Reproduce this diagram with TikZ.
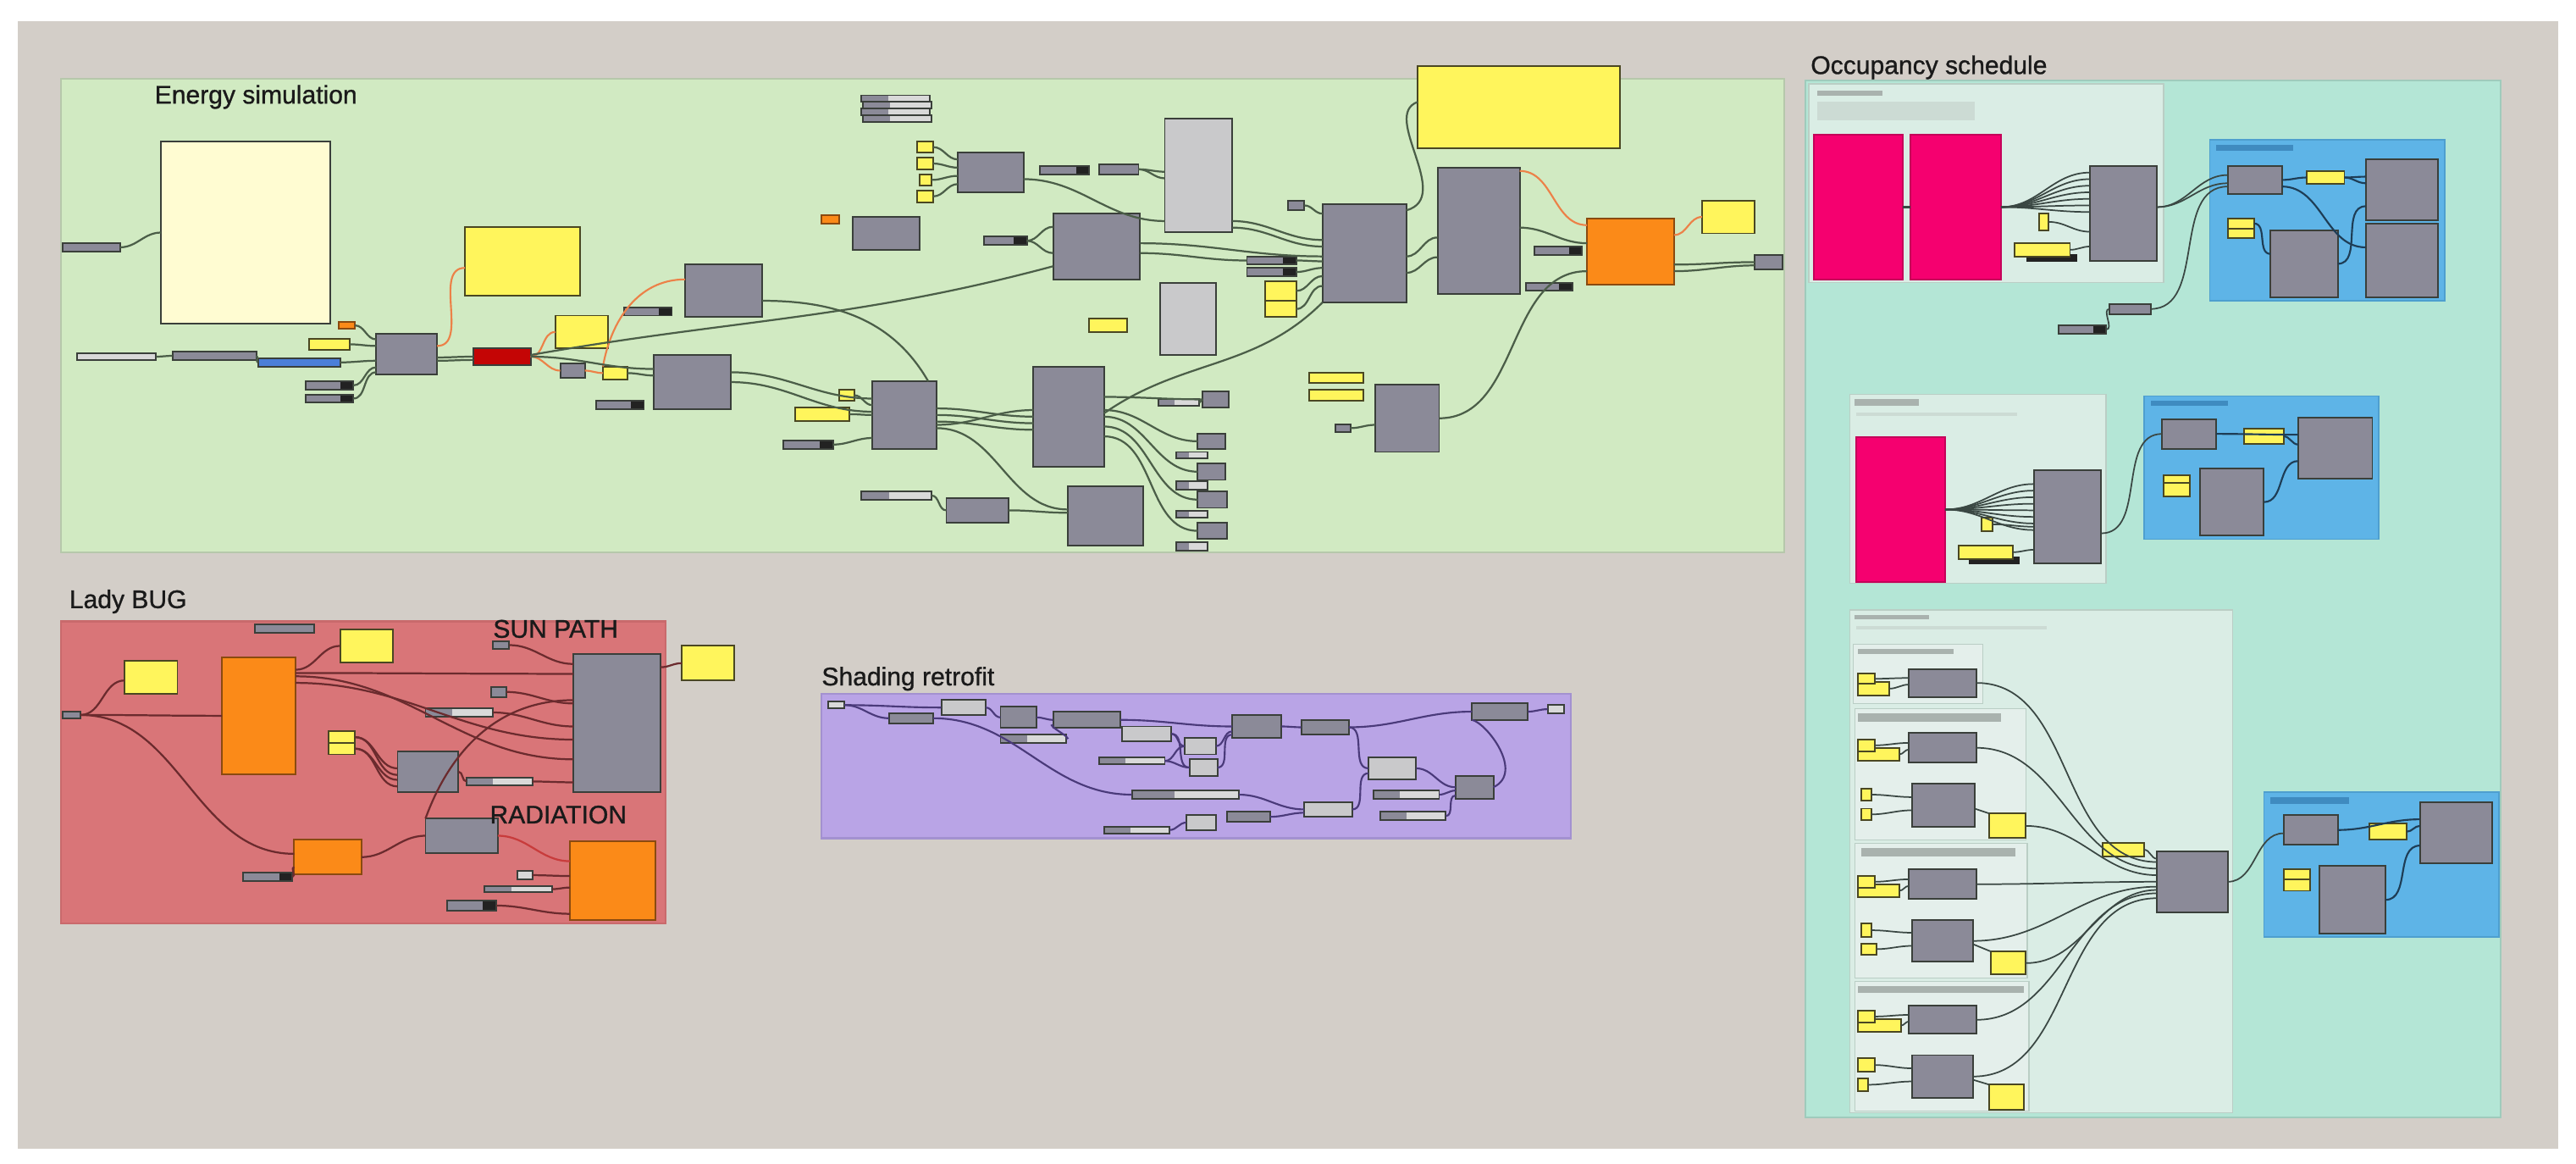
\documentclass[tikz,border=0pt]{standalone}
\usepackage{fontspec}
\setmainfont{Liberation Sans}
\newfontfamily\titlefont[FakeBold=1]{Liberation Sans}
\usetikzlibrary{fit,calc}
\definecolor{canvas}{HTML}{D3CEC8}
\definecolor{engreen}{HTML}{D1EAC2}
\definecolor{engreenE}{HTML}{B6C8AB}
\definecolor{lbred}{HTML}{D97578}
\definecolor{lbredE}{HTML}{C96A6C}
\definecolor{shpurp}{HTML}{B9A4E6}
\definecolor{shpurpE}{HTML}{A391D0}
\definecolor{occ}{HTML}{B4E6D6}
\definecolor{occE}{HTML}{9FCBBC}
\definecolor{sublt}{HTML}{DAEDE5}
\definecolor{subltE}{HTML}{BACEC5}
\definecolor{subsub}{HTML}{E4EFEB}
\definecolor{bluegrp}{HTML}{5EB4E7}
\definecolor{bluegrpE}{HTML}{4E9FCF}
\definecolor{ghgray}{HTML}{8B8A98}
\definecolor{ghedge}{HTML}{3A3F3A}
\definecolor{ghyel}{HTML}{FFF55C}
\definecolor{yeledge}{HTML}{4A4722}
\definecolor{ghpale}{HTML}{FFFCD2}
\definecolor{ghlg}{HTML}{C9C9CB}
\definecolor{ghorange}{HTML}{FB8A18}
\definecolor{orangeE}{HTML}{8A4A10}
\definecolor{ghred}{HTML}{C40505}
\definecolor{ghblue}{HTML}{4B7FD8}
\definecolor{ghpink}{HTML}{F5006F}
\definecolor{kdark}{HTML}{222222}
\definecolor{klight}{HTML}{D9D9D9}
\definecolor{wireE}{HTML}{4B5E48}
\definecolor{wireO}{HTML}{EC8148}
\definecolor{wireL}{HTML}{6B2B2E}
\definecolor{wireLr}{HTML}{C83C3C}
\definecolor{wireS}{HTML}{4A3A7A}
\definecolor{wireQ}{HTML}{3A4743}
\definecolor{wireB}{HTML}{1E3D56}
\definecolor{barG}{HTML}{A9B2AE}
\definecolor{barF}{HTML}{CCDBD4}
\definecolor{barB}{HTML}{3F8BC0}
\definecolor{titlec}{HTML}{1A1A1A}
\tikzset{
  base/.style={inner sep=0pt,outer sep=0pt,line width=1pt},
  comp/.style={base,fill=ghgray,draw=ghedge},
  yel/.style={base,fill=ghyel,draw=yeledge},
  pale/.style={base,fill=ghpale,draw=ghedge},
  lgray/.style={base,fill=ghlg,draw=ghedge},
  lslide/.style={base,fill=klight,draw=ghedge},
  orng/.style={base,fill=ghorange,draw=orangeE},
  redc/.style={base,fill=ghred,draw=ghedge},
  bluep/.style={base,fill=ghblue,draw=ghedge},
  pinkc/.style={base,fill=ghpink,draw=ghpink!80!black},
  grp/.style={inner sep=0pt,outer sep=0pt,line width=1.2pt},
  bar/.style={inner sep=0pt,outer sep=0pt,draw=none},
  title/.style={font=\titlefont\fontsize{15.5}{18}\selectfont,text=titlec,inner sep=0pt,anchor=base west},
  wE/.style={draw=wireE,line width=1.15pt},
  wO/.style={draw=wireO,line width=1.1pt},
  wL/.style={draw=wireL,line width=1.15pt},
  wLr/.style={draw=wireLr,line width=1.15pt},
  wS/.style={draw=wireS,line width=1.1pt},
  wQ/.style={draw=wireQ,line width=0.9pt},
  wB/.style={draw=wireB,line width=1.1pt},
}
\newcommand\bx[6]{\node[#1,fit={(#3,#4) (#5,#6)}] (#2) {};}
\newcommand\kb[5]{\bx{comp}{#1}{#2}{#3}{#4}{#5}%
  \fill[kdark] ([xshift=-8pt]#1.north east) rectangle (#1.south east);%
  \draw[ghedge,line width=1pt] (#1.north west) rectangle (#1.south east);}
\newcommand\kw[5]{\bx{comp}{#1}{#2}{#3}{#4}{#5}%
  \fill[klight] ($(#1.north west)!0.4!(#1.north east)$) rectangle (#1.south east);%
  \draw[ghedge,line width=1pt] (#1.north west) rectangle (#1.south east);}
\newcommand\wi[3][wE]{\draw[#1] (#2) to[out=0,in=180] (#3);}
\begin{document}
\begin{tikzpicture}[x=1pt,y=-1pt]
\useasboundingbox (0,0) rectangle (1568,708);
\fill[white] (0,0) rectangle (1568,708);
\fill[canvas] (11,13) rectangle (1557,699);

% ================= GROUPS =================
\node[grp,fill=engreen,draw=engreenE,fit={(37,48) (1086,336)}] (gE) {};
\node[title] (tE) at (94,63) {Energy simulation};
\node[grp,fill=lbred,draw=lbredE,fit={(37,378) (405,562)}] (gL) {};
\node[title] (tL) at (42,370) {Lady BUG};
\node[grp,fill=shpurp,draw=shpurpE,fit={(500,422) (956,510)}] (gS) {};
\node[title] (tS) at (500,417) {Shading retrofit};
\node[grp,fill=occ,draw=occE,fit={(1099,49) (1522,680)}] (gQ) {};
\node[title] (tQ) at (1102,45) {Occupancy schedule};

% ================= ENERGY SIMULATION =================
\bx{comp}{es1}{38}{148}{73}{153}
\bx{pale}{ep1}{98}{86}{201}{197}
\bx{lslide}{ea1}{47}{215}{95}{219}
\bx{comp}{ea2}{105}{214}{156}{219}
\bx{bluep}{ea3}{157}{218}{207}{223}
\bx{orng}{eo1}{206}{196}{216}{200}
\bx{yel}{ey1}{188}{206}{213}{213}
\kb{ek1}{186}{232}{215}{237}
\kb{ek2}{186}{240}{215}{245}
\bx{comp}{ec1}{229}{203}{266}{228}
\bx{yel}{ey2}{283}{138}{353}{180}
\bx{redc}{er1}{288}{212}{323}{222}
\bx{yel}{ey3}{338}{192}{370}{212}
\bx{comp}{eg1}{341}{221}{356}{230}
\bx{yel}{ey4}{367}{223}{382}{231}
\kb{ek3}{380}{187}{409}{192}
\bx{comp}{ec2}{417}{161}{464}{193}
\kb{ek4}{363}{244}{392}{249}
\bx{comp}{ec3}{398}{216}{445}{249}
\kw{et1}{524}{58}{566}{62}
\kw{et2}{525}{62}{567}{66}
\kw{et3}{524}{66}{566}{70}
\kw{et4}{525}{70}{567}{74}
\bx{yel}{eys1}{558}{86}{568}{93}
\bx{yel}{eys2}{558}{96}{568}{103}
\bx{yel}{eys3}{560}{106}{567}{113}
\bx{yel}{eys4}{558}{116}{568}{123}
\bx{comp}{ec4}{583}{93}{623}{117}
\kb{ek5}{633}{101}{663}{106}
\bx{comp}{eg2}{669}{100}{693}{106}
\bx{lgray}{eL1}{709}{72}{750}{141}
\bx{orng}{eo2}{500}{131}{511}{136}
\bx{comp}{ec5}{519}{132}{560}{152}
\kb{ek6}{599}{144}{625}{149}
\bx{comp}{ec6}{641}{130}{694}{170}
\bx{comp}{eg3}{784}{122}{794}{128}
\bx{comp}{em1}{805}{124}{856}{184}
\kb{ek7}{759}{156}{789}{161}
\kb{ek8}{759}{163}{789}{168}
\bx{yel}{ey5}{770}{171}{789}{183}
\bx{yel}{ey6}{770}{183}{789}{193}
\bx{lgray}{eL2}{706}{172}{740}{216}
\bx{yel}{ey7}{663}{194}{686}{202}
\bx{yel}{eY}{863}{40}{986}{90}
\bx{comp}{em2}{875}{102}{925}{179}
\bx{orng}{eO}{966}{133}{1019}{173}
\bx{yel}{ey8}{1036}{122}{1068}{142}
\kb{ek9}{934}{150}{963}{155}
\kb{ek10}{929}{172}{957}{177}
\bx{comp}{eg4}{1068}{155}{1085}{164}
\bx{yel}{ey9}{797}{227}{830}{233}
\bx{yel}{ey10}{797}{237}{830}{244}
\bx{comp}{ec10}{837}{234}{876}{275}
\bx{comp}{eg5}{813}{258}{822}{263}
\bx{yel}{ey11}{511}{237}{520}{244}
\bx{yel}{ey12}{484}{248}{517}{256}
\kb{ek11}{477}{268}{507}{273}
\bx{comp}{ec7}{531}{232}{570}{273}
\bx{comp}{ec8}{629}{223}{672}{284}
\kw{ew1}{705}{243}{730}{247}
\bx{comp}{eg6}{732}{238}{748}{248}
\bx{comp}{eg7}{729}{264}{746}{273}
\kw{ew2}{716}{275}{735}{279}
\bx{comp}{eg8}{729}{282}{746}{292}
\kw{ew3}{716}{293}{735}{298}
\bx{comp}{eg9}{729}{299}{747}{309}
\kw{ew4}{716}{311}{735}{315}
\bx{comp}{eg10}{729}{318}{747}{328}
\kw{ew5}{716}{330}{735}{335}
\kw{ew6}{524}{299}{567}{304}
\bx{comp}{ec9}{576}{303}{614}{318}
\bx{comp}{ec11}{650}{296}{696}{332}

% energy wires
\wi{es1.east}{ep1.west}
\wi{ea1.east}{ea2.west}
\wi{ea2.east}{ea3.west}
\wi{ea3.east}{[yshift=-4pt]ec1.west}
\wi{eo1.east}{[yshift=9pt]ec1.west}
\wi{ey1.east}{[yshift=5pt]ec1.west}
\wi{ek1.east}{[yshift=-8pt]ec1.west}
\wi{ek2.east}{[yshift=-11pt]ec1.west}
\wi[wO]{[yshift=5pt]ec1.east}{[yshift=-4pt]ey2.west}
\wi{[yshift=-2pt]ec1.east}{er1.west}
\wi{[yshift=-4pt]ec1.east}{[yshift=-2pt]er1.west}
\wi[wO]{er1.east}{ey3.west}
\wi[wO]{er1.east}{eg1.west}
\wi[wO]{eg1.east}{ey4.west}
\draw[wO] (ey4.north west) to[out=80,in=180] ([yshift=7pt]ec2.west);
\wi{ey4.east}{[yshift=4pt]ec3.west}
\wi{er1.east}{[yshift=8pt]ec3.west}
\draw[wE] ([yshift=1pt]er1.east) to[out=10,in=195] ([yshift=-12pt]ec6.west);
\draw[wE] ([yshift=-6pt]ec2.east) to[out=0,in=120] ([xshift=-5pt]ec7.north east);
\wi{[yshift=6pt]ec3.east}{[yshift=10pt]ec7.west}
\wi{ec3.east}{[yshift=2pt]ec7.west}
\wi{ey11.east}{[yshift=6pt]ec7.west}
\wi{ey12.east}{ec7.west}
\wi{ek11.east}{[yshift=-14pt]ec7.west}
\wi{[yshift=4pt]ec7.east}{ec8.west}
\wi{ec7.east}{[yshift=-4pt]ec8.west}
\wi{[yshift=-4pt]ec7.east}{[yshift=-8pt]ec8.west}
\wi{[yshift=-6pt]ec7.east}{[yshift=4pt]ec8.west}
\wi{[yshift=-8pt]ec7.east}{[yshift=4pt]ec11.west}
\wi{ew6.east}{ec9.west}
\wi{ec9.east}{[yshift=2pt]ec11.west}
\wi{[yshift=12pt]ec8.east}{eg6.west}
\wi{[yshift=4pt]ec8.east}{eg7.west}
\wi{ec8.east}{eg8.west}
\wi{[yshift=-6pt]ec8.east}{eg9.west}
\wi{[yshift=-12pt]ec8.east}{eg10.west}
\wi{ew1.east}{eg6.west}
\draw[wE] ([yshift=2pt]ec8.east) to[out=35,in=225] (em1.south west);
\wi{eys1.east}{[yshift=8pt]ec4.west}
\wi{eys2.east}{[yshift=3pt]ec4.west}
\wi{eys3.east}{[yshift=-2pt]ec4.west}
\wi{eys4.east}{[yshift=-7pt]ec4.west}
\wi{[yshift=-4pt]ec4.east}{[yshift=-28pt]eL1.west}
\wi{eg2.east}{[yshift=2pt]eL1.west}
\wi{eg2.east}{[yshift=-2pt]eL1.west}
\wi{[yshift=-28pt]eL1.east}{[yshift=8pt]em1.west}
\wi{[yshift=-32pt]eL1.east}{[yshift=4pt]em1.west}
\wi{eg3.east}{[yshift=24pt]em1.west}
\wi{[yshift=2pt]ec6.east}{[yshift=-2pt]em1.west}
\wi{[yshift=-4pt]ec6.east}{ek7.west}
\wi{ek6.east}{[yshift=12pt]ec6.west}
\wi{ek6.east}{[yshift=-4pt]ec6.west}
\wi{ek7.east}{[yshift=-5pt]em1.west}
\wi{ek8.east}{[yshift=-9pt]em1.west}
\wi{ey5.east}{[yshift=-14pt]em1.west}
\wi{ey6.east}{[yshift=-20pt]em1.west}
\draw[wE] ([yshift=26pt]em1.east) .. controls (885,120) and (840,70) .. ([yshift=3pt]eY.west);
\wi{[yshift=-2pt]em1.east}{[yshift=-4pt]em2.west}
\wi{[yshift=-12pt]em1.east}{[yshift=-16pt]em2.west}
\wi[wO]{[yshift=-2pt]em2.north east}{[yshift=16pt]eO.west}
\wi{[yshift=2pt]em2.east}{[yshift=5pt]eO.west}
\draw[wE] (ec10.east) to[out=0,in=180] ([yshift=-12pt]eO.west);
\wi{eg5.east}{[yshift=-4pt]ec10.west}
\wi[wO]{[yshift=10pt]eO.east}{ey8.west}
\wi{[yshift=-8pt]eO.east}{eg4.west}
\wi{[yshift=-12pt]eO.east}{[yshift=-2pt]eg4.west}

% ================= LADY BUG =================
\bx{comp}{lg0}{38}{433}{49}{437}
\bx{yel}{ly1}{76}{402}{108}{422}
\bx{orng}{lO}{135}{400}{180}{471}
\bx{comp}{lk0}{155}{380}{191}{385}
\bx{yel}{ly2}{207}{383}{239}{403}
\bx{comp}{lg1}{300}{390}{310}{395}
\bx{comp}{lB}{349}{398}{402}{482}
\bx{yel}{ly5}{415}{393}{447}{414}
\bx{comp}{lg2}{299}{418}{308}{424}
\kw{lk1}{259}{431}{300}{436}
\bx{yel}{ly3}{200}{445}{216}{452}
\bx{yel}{ly4}{200}{452}{216}{459}
\bx{comp}{lc1}{242}{457}{279}{482}
\kw{lk2}{284}{473}{324}{478}
\bx{comp}{lc2}{259}{498}{303}{519}
\bx{orng}{lo2}{179}{511}{220}{532}
\kb{lk5}{148}{531}{178}{536}
\bx{orng}{lo3}{347}{512}{399}{560}
\bx{lslide}{ll1}{315}{530}{324}{535}
\kw{lk3}{295}{539}{336}{543}
\kb{lk4}{272}{548}{302}{554}
\node[title] (tSP) at (300,388) {SUN PATH};
\node[title] (tRA) at (298,501) {RADIATION};

\wi[wL]{lg0.east}{[yshift=-2pt]ly1.west}
\wi[wL]{lg0.east}{lO.west}
\draw[wL] (lg0.east) to[out=0,in=180] ([yshift=2pt]lo2.west);
\wi[wL]{[yshift=28pt]lO.east}{ly2.west}
\wi[wL]{[yshift=26pt]lO.east}{[yshift=30pt]lB.west}
\wi[wL]{[yshift=20pt]lO.east}{[yshift=-10pt]lB.west}
\wi[wL]{[yshift=24pt]lO.east}{[yshift=-22pt]lB.west}
\wi[wL]{lg1.east}{[yshift=36pt]lB.west}
\wi[wL]{lg2.east}{[yshift=12pt]lB.west}
\wi[wL]{lk1.east}{[yshift=-2pt]lB.west}
\wi[wL]{ly3.east}{[yshift=2pt]lc1.west}
\wi[wL]{ly3.east}{[yshift=-2pt]lc1.west}
\wi[wL]{ly4.east}{[yshift=-5pt]lc1.west}
\wi[wL]{ly4.east}{[yshift=-9pt]lc1.west}
\wi[wL]{lc1.east}{lk2.west}
\wi[wL]{lk2.east}{[yshift=-36pt]lB.west}
\wi[wL]{lo2.east}{lc2.west}
\draw[wL] (lc2.north west) to[out=70,in=180] ([yshift=14pt]lB.west);
\wi[wLr]{lc2.east}{[yshift=12pt]lo3.west}
\wi[wL]{ll1.east}{[yshift=3pt]lo3.west}
\wi[wL]{lk3.east}{[yshift=-4pt]lo3.west}
\wi[wL]{lk4.east}{[yshift=-20pt]lo3.west}
\wi[wL]{[yshift=34pt]lB.east}{ly5.west}
\wi[wL]{lk5.east}{[yshift=-6pt]lo2.west}

% ================= SHADING RETROFIT =================
\bx{lslide}{st0}{504}{427}{514}{431}
\bx{comp}{sg1}{541}{434}{568}{440}
\bx{lgray}{sL1}{573}{426}{600}{435}
\bx{comp}{sg2}{609}{430}{631}{443}
\kw{sk1}{609}{447}{649}{452}
\bx{comp}{sg3}{641}{433}{682}{443}
\bx{lgray}{sL2}{683}{442}{713}{451}
\bx{lgray}{sL3}{721}{449}{740}{459}
\bx{lgray}{sL4}{724}{462}{741}{472}
\kw{sk2}{669}{461}{709}{465}
\bx{comp}{sg4}{750}{435}{780}{449}
\bx{comp}{sg5}{792}{438}{821}{447}
\bx{comp}{sg6}{896}{428}{930}{438}
\bx{lslide}{st1}{942}{429}{952}{434}
\bx{lgray}{sL5}{833}{461}{862}{474}
\bx{comp}{sg8}{886}{472}{909}{486}
\kw{sk3}{836}{481}{876}{486}
\kw{sk4}{840}{494}{880}{499}
\bx{lgray}{sL6}{794}{488}{823}{497}
\bx{comp}{sg7}{747}{494}{773}{500}
\kw{sK}{689}{481}{754}{486}
\bx{lgray}{sL7}{722}{496}{740}{505}
\kw{sk5}{672}{503}{712}{507}

\wi[wS]{st0.east}{sL1.west}
\wi[wS]{st0.east}{sg1.west}
\draw[wS] (sg1.east) to[out=0,in=180] (sK.west);
\wi[wS]{sL1.east}{sg2.west}
\wi[wS]{sg2.east}{sg3.west}
\wi[wS]{sk1.east}{[yshift=-3pt]sg3.west}
\wi[wS]{sg3.east}{sg4.west}
\wi[wS]{sL2.east}{sL3.west}
\wi[wS]{sL2.east}{sL4.west}
\wi[wS]{sk2.east}{sL3.west}
\wi[wS]{sk2.east}{sL4.west}
\wi[wS]{sL3.east}{[yshift=-3pt]sg4.west}
\wi[wS]{sL4.east}{[yshift=-5pt]sg4.west}
\wi[wS]{sg4.east}{sg5.west}
\wi[wS]{sg5.east}{sg6.west}
\wi[wS]{sg5.east}{sL5.west}
\wi[wS]{sg6.east}{st1.west}
\wi[wS]{sK.east}{sL6.west}
\wi[wS]{sg7.east}{[yshift=-2pt]sL6.west}
\wi[wS]{sL6.east}{[yshift=-3pt]sL5.west}
\wi[wS]{sL5.east}{sg8.west}
\wi[wS]{sk3.east}{[yshift=-2pt]sg8.west}
\wi[wS]{sk4.east}{[yshift=-5pt]sg8.west}
\draw[wS] (sg8.east) .. controls (928,470) and (905,440) .. (sg6.south west);
\wi[wS]{sk5.east}{sL7.west}

% ================= OCCUPANCY SCHEDULE =================
% sub-group A
\node[grp,line width=0.8pt,fill=sublt,draw=subltE,fit={(1101,51) (1317,172)}] (qGA) {};
\bx{bar,fill=barG}{qbarA}{1106}{55}{1146}{58}
\bx{bar,fill=barF}{qbarA2}{1106}{62}{1202}{73}
\bx{pinkc}{qp1}{1104}{82}{1158}{170}
\bx{pinkc}{qp2}{1163}{82}{1218}{170}
\bx{comp}{qA}{1272}{101}{1313}{159}
\bx{yel}{qy1}{1241}{130}{1247}{140}
\bx{base,fill=kdark,draw=kdark}{qy2d}{1234}{155}{1264}{159}
\bx{yel}{qy2}{1226}{148}{1260}{156}
\bx{comp}{qs1}{1284}{185}{1309}{191}
\kb{qk1}{1253}{198}{1282}{203}
% blue A
\node[grp,line width=0.8pt,fill=bluegrp,draw=bluegrpE,fit={(1345,85) (1488,183)}] (qBA) {};
\bx{bar,fill=barB}{qbarBA}{1349}{88}{1396}{92}
\bx{comp}{qb1}{1356}{101}{1389}{118}
\bx{yel}{qby1}{1404}{104}{1427}{112}
\bx{comp}{qb3}{1440}{97}{1484}{134}
\bx{comp}{qb4}{1440}{136}{1484}{181}
\bx{yel}{qby2}{1356}{133}{1372}{139}
\bx{yel}{qby3}{1356}{139}{1372}{145}
\bx{comp}{qb2}{1382}{140}{1423}{181}

\draw[wQ,line width=1.5pt] (qp1.east) -- (qp2.west);
\foreach \k in {25,21,17,13,9,5,1}{\draw[wQ] (qp2.east) to[out=0,in=180] ([yshift=\k pt]qA.west);}
\wi[wQ]{qy1.east}{[yshift=-11pt]qA.west}
\wi[wQ]{qy2.east}{[yshift=-20pt]qA.west}
\wi[wQ]{[yshift=4pt]qA.east}{[yshift=3pt]qb1.west}
\wi[wQ]{[yshift=4pt]qA.east}{[yshift=-2pt]qb1.west}
\wi[wQ]{qs1.east}{[yshift=-4pt]qb1.west}
\wi[wQ]{qk1.east}{qs1.west}
\wi[wB]{qb1.east}{qby1.west}
\wi[wB]{qby1.east}{[yshift=8pt]qb3.west}
\wi[wB]{qby1.east}{[yshift=4pt]qb3.west}
\wi[wB]{[yshift=-4pt]qb1.east}{[yshift=8pt]qb4.west}
\wi[wB]{qby2.east}{[yshift=6pt]qb2.west}
\wi[wB]{qb2.east}{[yshift=-10pt]qb3.west}

% sub-group B
\node[grp,line width=0.8pt,fill=sublt,draw=subltE,fit={(1126,240) (1282,355)}] (qGB) {};
\bx{bar,fill=barG}{qbarB}{1129}{243}{1168}{247}
\bx{bar,fill=barF}{qbarB2}{1130}{251}{1228}{253}
\bx{pinkc}{qp3}{1130}{266}{1184}{354}
\bx{comp}{qB}{1238}{286}{1279}{343}
\bx{yel}{qy3}{1206}{315}{1213}{323}
\bx{base,fill=kdark,draw=kdark}{qy4d}{1199}{339}{1229}{343}
\bx{yel}{qy4}{1192}{332}{1225}{340}
% blue B
\node[grp,line width=0.8pt,fill=bluegrp,draw=bluegrpE,fit={(1305,241) (1448,328)}] (qBB) {};
\bx{bar,fill=barB}{qbarBB}{1309}{244}{1356}{247}
\bx{comp}{qc1}{1316}{255}{1349}{273}
\bx{yel}{qcy1}{1366}{261}{1390}{270}
\bx{comp}{qc3}{1399}{254}{1444}{291}
\bx{yel}{qcy2}{1317}{289}{1333}{294}
\bx{yel}{qcy3}{1317}{294}{1333}{302}
\bx{comp}{qc2}{1339}{285}{1378}{326}

\foreach \k in {20,16,12,8,4,0,-4,-8}{\draw[wQ] (qp3.east) to[out=0,in=180] ([yshift=\k pt]qB.west);}
\wi[wQ]{qy3.east}{[yshift=-6pt]qB.west}
\wi[wQ]{qy4.east}{[yshift=-20pt]qB.west}
\wi[wQ]{[yshift=-10pt]qB.east}{qc1.west}
\wi[wB]{qc1.east}{[yshift=8pt]qc3.west}
\wi[wB]{qcy1.east}{[yshift=2pt]qc3.west}
\wi[wB]{qc2.east}{[yshift=-8pt]qc3.west}

% sub-group C
\node[grp,line width=0.8pt,fill=sublt,draw=subltE,fit={(1126,371) (1359,677)}] (qGC) {};
\bx{bar,fill=barG}{qbarC}{1129}{374}{1174}{377}
\bx{bar,fill=barF}{qbarC2}{1130}{381}{1246}{383}
\node[grp,line width=0.6pt,fill=subsub,draw=subltE,fit={(1128,392) (1207,428)}] (qS1) {};
\node[grp,line width=0.6pt,fill=subsub,draw=subltE,fit={(1129,431) (1233,511)}] (qS2) {};
\node[grp,line width=0.6pt,fill=subsub,draw=subltE,fit={(1129,513) (1234,595)}] (qS3) {};
\node[grp,line width=0.6pt,fill=subsub,draw=subltE,fit={(1129,597) (1235,676)}] (qS4) {};
\bx{bar,fill=barG}{qbs1}{1131}{395}{1189}{398}
\bx{bar,fill=barG}{qbs2}{1131}{434}{1218}{439}
\bx{bar,fill=barG}{qbs3}{1133}{516}{1227}{521}
\bx{bar,fill=barG}{qbs4}{1131}{600}{1232}{604}
% c1
\bx{yel}{qc1yb}{1131}{415}{1150}{423}
\bx{yel}{qc1ya}{1131}{410}{1141}{416}
\bx{comp}{qC1}{1162}{407}{1203}{424}
% c2
\bx{yel}{qc2yb}{1131}{455}{1156}{463}
\bx{yel}{qc2ya}{1131}{450}{1141}{457}
\bx{comp}{qC2a}{1162}{446}{1203}{464}
\bx{yel}{qc2s1}{1133}{480}{1139}{487}
\bx{yel}{qc2s2}{1133}{492}{1139}{499}
\bx{comp}{qC2b}{1164}{477}{1202}{503}
\bx{yel}{qC2y}{1211}{495}{1233}{510}
% c3
\bx{yel}{qc3yb}{1131}{538}{1156}{546}
\bx{yel}{qc3ya}{1131}{533}{1141}{540}
\bx{comp}{qC3a}{1162}{529}{1203}{547}
\bx{yel}{qc3s1}{1133}{562}{1139}{570}
\bx{yel}{qc3s2}{1133}{574}{1142}{581}
\bx{comp}{qC3b}{1164}{560}{1201}{585}
\bx{yel}{qC3y}{1212}{579}{1233}{593}
% c4
\bx{yel}{qc4yb}{1131}{620}{1157}{628}
\bx{yel}{qc4ya}{1131}{615}{1141}{622}
\bx{comp}{qC4a}{1162}{612}{1203}{629}
\bx{yel}{qc4s1}{1131}{644}{1141}{652}
\bx{yel}{qc4s2}{1131}{656}{1137}{664}
\bx{comp}{qC4b}{1164}{642}{1201}{668}
\bx{yel}{qC4y}{1211}{660}{1232}{675}
% collector
\bx{yel}{qyC}{1280}{513}{1305}{521}
\bx{comp}{qD}{1313}{518}{1356}{555}
% blue C
\node[grp,line width=0.8pt,fill=bluegrp,draw=bluegrpE,fit={(1378,482) (1521,570)}] (qBC) {};
\bx{bar,fill=barB}{qbarBC}{1382}{485}{1430}{489}
\bx{comp}{qe1}{1390}{496}{1423}{514}
\bx{yel}{qey1}{1442}{501}{1465}{511}
\bx{comp}{qe3}{1473}{488}{1517}{525}
\bx{yel}{qey2}{1390}{529}{1406}{535}
\bx{yel}{qey3}{1390}{535}{1406}{542}
\bx{comp}{qe2}{1412}{527}{1452}{568}

\wi[wQ]{qc1ya.east}{[yshift=3pt]qC1.west}
\wi[wQ]{qc1yb.east}{[yshift=-1pt]qC1.west}
\wi[wQ]{qc2ya.east}{[yshift=3pt]qC2a.west}
\wi[wQ]{qc2yb.east}{[yshift=-1pt]qC2a.west}
\wi[wQ]{qc2s1.east}{[yshift=5pt]qC2b.west}
\wi[wQ]{qc2s2.east}{[yshift=-3pt]qC2b.west}
\wi[wQ]{qc3ya.east}{[yshift=3pt]qC3a.west}
\wi[wQ]{qc3yb.east}{[yshift=-1pt]qC3a.west}
\wi[wQ]{qc3s1.east}{[yshift=5pt]qC3b.west}
\wi[wQ]{qc3s2.east}{[yshift=-3pt]qC3b.west}
\wi[wQ]{qc4ya.east}{[yshift=3pt]qC4a.west}
\wi[wQ]{qc4yb.east}{[yshift=-1pt]qC4a.west}
\wi[wQ]{qc4s1.east}{[yshift=5pt]qC4b.west}
\wi[wQ]{qc4s2.east}{[yshift=-3pt]qC4b.west}
\draw[wQ] ([yshift=-2pt]qC2b.east) -- (qC2y.north west);
\draw[wQ] ([yshift=-2pt]qC3b.east) -- (qC3y.north west);
\draw[wQ] ([yshift=-2pt]qC4b.east) -- (qC4y.north west);
\wi[wQ]{qC1.east}{[yshift=12pt]qD.west}
\wi[wQ]{qC2a.east}{[yshift=8pt]qD.west}
\wi[wQ]{qC2y.east}{[yshift=4pt]qD.west}
\wi[wQ]{qC3a.east}{[yshift=0pt]qD.west}
\wi[wQ]{qC3b.east}{[yshift=-3pt]qD.west}
\wi[wQ]{qC3y.east}{[yshift=-5pt]qD.west}
\wi[wQ]{qC4a.east}{[yshift=-7pt]qD.west}
\wi[wQ]{qC4b.east}{[yshift=-10pt]qD.west}
\wi[wQ]{qyC.east}{[yshift=14pt]qD.west}
\wi[wQ]{qD.east}{[yshift=-2pt]qe1.west}
\wi[wB]{qe1.east}{[yshift=8pt]qe3.west}
\wi[wB]{qey1.east}{[yshift=4pt]qe3.west}
\wi[wB]{qe2.east}{[yshift=-8pt]qe3.west}
\end{tikzpicture}
\end{document}
